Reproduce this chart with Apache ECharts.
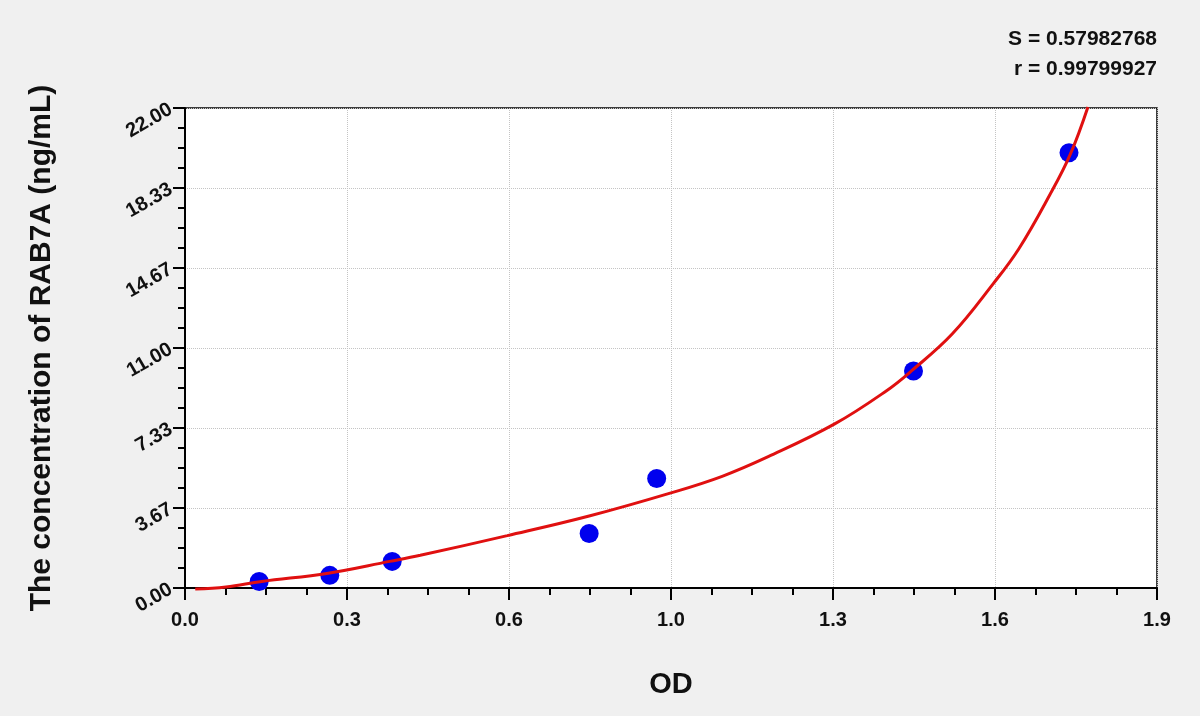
<!DOCTYPE html>
<html>
<head>
<meta charset="utf-8">
<title>RAB7A standard curve</title>
<script src="https://cdn.jsdelivr.net/npm/echarts@6/dist/echarts.min.js"></script>
<style>
  html, body { margin: 0; padding: 0; background: #f0f0f0; }
  #main { width: 1200px; height: 716px; }
</style>
</head>
<body>
<div id="main"></div>
<script>
// standards: OD and concentration
let pointOD = [0.145, 0.283, 0.405, 0.790, 0.922, 1.424, 1.728]
let pointConc = [0.30, 0.58, 1.22, 2.50, 5.02, 9.95, 19.95]

// fitted curve, points
let curveOD = [0.02, 0.08, 0.15, 0.28, 0.40, 0.46, 0.63, 0.79, 0.95, 1.05, 1.14, 1.27, 1.37, 1.42, 1.50, 1.58, 1.63, 1.69, 1.73, 1.765]
let curveConc = [-0.05, 0.05, 0.30, 0.68, 1.22, 1.50, 2.40, 3.30, 4.36, 5.12, 6.02, 7.52, 9.02, 9.95, 11.65, 13.95, 15.55, 18.0, 19.85, 22.05]

// tick labels
let xTickLabels = ['0.0', '0.3', '0.6', '1.0', '1.3', '1.6', '1.9']
let yTickLabels = ['0.00', '3.67', '7.33', '11.00', '14.67', '18.33', '22.00']

let fitStats = ['S = 0.57982768', 'r = 0.99799927']

let xMax = 1.9
let yMax = 22
let xStep = xMax / 6
let yStep = yMax / 6

let font = '"Liberation Sans", Arial, sans-serif'

let scatterData = pointOD.map((v, i) => [v, pointConc[i]])
let curveData = curveOD.map((v, i) => [v, curveConc[i]])

let chart = echarts.init(document.getElementById('main'))

// axis styling shared by both axes
function axisStyle() {
    return {
        axisLine: { show: true, onZero: false, lineStyle: { color: '#000', width: 2 } },
        axisTick: { show: true, inside: false, length: 12, lineStyle: { color: '#000', width: 2 } },
        minorTick: { show: true, splitNumber: 4, length: 7, lineStyle: { color: '#000', width: 2 } },
        splitLine: { show: true, lineStyle: { color: '#c4c4c4', type: 'dotted', width: 1 } },
        minorSplitLine: { show: false }
    }
}

const option = {
    backgroundColor: '#f0f0f0',
    animation: false,
    // S and r in the top right corner
    graphic: fitStats.map((t, i) => ({
        type: 'text',
        right: 43,
        top: 29 + i * 30,
        style: {
            text: t,
            font: 'bold 21px ' + font,
            fill: '#111'
        }
    })),
    grid: {
        left: 185,
        right: 43,
        top: 108,
        bottom: 128,
        show: true,
        backgroundColor: '#ffffff',
        borderColor: '#000',
        borderWidth: 1.5
    },
    xAxis: Object.assign({
        type: 'value',
        min: 0,
        max: xMax,
        interval: xStep,
        name: 'OD',
        nameLocation: 'middle',
        nameGap: 82,
        nameTextStyle: { fontFamily: font, fontSize: 29, fontWeight: 'bold', color: '#111' },
        axisLabel: {
            margin: 22,
            fontFamily: font,
            fontSize: 20,
            fontWeight: 'bold',
            color: '#111',
            formatter: v => xTickLabels[Math.round(v / xStep)]
        }
    }, axisStyle()),
    yAxis: Object.assign({
        type: 'value',
        min: 0,
        max: yMax,
        interval: yStep,
        name: 'The concentration of RAB7A (ng/mL)',
        nameLocation: 'middle',
        nameGap: 128,
        nameTextStyle: { fontFamily: font, fontSize: 30, fontWeight: 'bold', color: '#111' },
        axisLabel: {
            margin: 14,
            rotate: 30,
            fontFamily: font,
            fontSize: 20,
            fontWeight: 'bold',
            color: '#111',
            formatter: v => yTickLabels[Math.round(v / yStep)]
        }
    }, axisStyle()),
    series: [
        {
            name: 'standards',
            type: 'scatter',
            data: scatterData,
            symbol: 'circle',
            symbolSize: 19,
            itemStyle: { color: '#0000ee', opacity: 1 },
            z: 2
        },
        {
            name: 'fit',
            type: 'line',
            data: curveData,
            smooth: 0.4,
            showSymbol: false,
            clip: false,
            lineStyle: { color: '#e01010', width: 3 },
            z: 3
        }
    ]
}

chart.setOption(option)
</script>
</body>
</html>
